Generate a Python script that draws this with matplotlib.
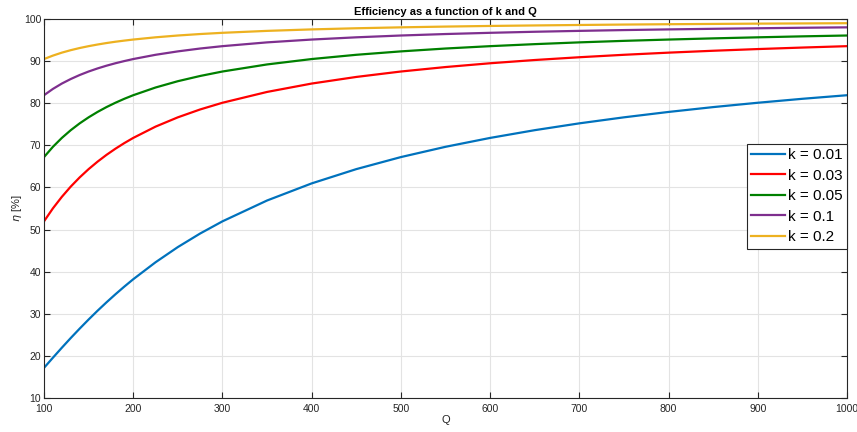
import matplotlib
matplotlib.use('Agg')
import matplotlib.pyplot as plt

plt.rcParams['font.family'] = ['Liberation Sans', 'DejaVu Sans']

# Q values and efficiency (%)
Q = [100, 110, 120, 130, 140, 150, 160, 170, 180, 190, 200, 225, 250, 275, 300,
     350, 400, 450, 500, 550, 600, 650, 700, 750, 800, 850, 900, 950, 1000]

eta_k001 = [17.16, 19.57, 21.94, 24.25, 26.48, 28.64, 30.72, 32.71, 34.62, 36.45,
            38.20, 42.23, 45.84, 49.06, 51.95, 56.90, 60.96, 64.35, 67.21, 69.65,
            71.76, 73.60, 75.22, 76.65, 77.93, 79.08, 80.11, 81.05, 81.90]
eta_k003 = [51.95, 55.04, 57.77, 60.21, 62.39, 64.35, 66.12, 67.73, 69.19, 70.53,
            71.76, 74.44, 76.65, 78.52, 80.11, 82.68, 84.67, 86.24, 87.53, 88.59,
            89.49, 90.26, 90.92, 91.50, 92.01, 92.46, 92.86, 93.22, 93.55]
eta_k005 = [67.21, 69.65, 71.76, 73.60, 75.22, 76.65, 77.93, 79.08, 80.11, 81.05,
            81.90, 83.73, 85.23, 86.47, 87.53, 89.21, 90.49, 91.50, 92.31, 92.99,
            93.55, 94.03, 94.45, 94.81, 95.12, 95.40, 95.65, 95.88, 96.08]
eta_k01 = [81.90, 83.40, 84.67, 85.75, 86.70, 87.53, 88.26, 88.91, 89.49, 90.01,
           90.49, 91.50, 92.31, 92.99, 93.55, 94.45, 95.12, 95.65, 96.08, 96.43,
           96.72, 96.97, 97.18, 97.37, 97.53, 97.67, 97.80, 97.92, 98.02]
eta_k02 = [90.49, 91.31, 92.01, 92.60, 93.11, 93.55, 93.94, 94.29, 94.60, 94.87,
           95.12, 95.65, 96.08, 96.43, 96.72, 97.18, 97.53, 97.80, 98.02, 98.20,
           98.35, 98.47, 98.58, 98.68, 98.76, 98.83, 98.90, 98.95, 99.00]

labels = ['k = 0.01', 'k = 0.03', 'k = 0.05', 'k = 0.1', 'k = 0.2']
series = [eta_k001, eta_k003, eta_k005, eta_k01, eta_k02]
colors = ['#0072BD', '#FF0000', '#008000', '#7E2F8E', '#EDB120']

fig = plt.figure(figsize=(8.57, 4.32), dpi=100)
ax = fig.add_axes([44 / 857, 1 - 398 / 432, 803 / 857, 379 / 432])

for y, lab, c in zip(series, labels, colors):
    ax.plot(Q, y, color=c, linewidth=1.6, label=lab, solid_joinstyle='round')

ax.set_xlim(100, 1000)
ax.set_ylim(10, 100)
ax.set_xticks(range(100, 1001, 100))
ax.set_yticks(range(10, 101, 10))
ax.grid(True, color='#e3e3e3', linewidth=0.8)
ax.set_axisbelow(True)
ax.tick_params(direction='in', length=4, width=0.8, labelsize=7.5,
               colors='#262626', top=True, right=True, pad=2)
ax.tick_params(axis='x', pad=4)
for s in ax.spines.values():
    s.set_color('#262626')
    s.set_linewidth(0.8)

ax.set_xlabel('Q', fontsize=8, color='#262626', labelpad=1)
ax.set_ylabel(r'$\eta$ [%]', fontsize=8, color='#262626', labelpad=0)
ax.set_title('Efficiency as a function of k and Q', fontsize=8,
             fontweight='bold', pad=3)

leg = ax.legend(loc='upper right', bbox_to_anchor=(1.0, 0.671), fontsize=11,
                fancybox=False, framealpha=1, edgecolor='#262626',
                handlelength=2.2, handletextpad=0.2, borderpad=0.3,
                labelspacing=0.42, borderaxespad=0)
leg.get_frame().set_linewidth(0.8)

fig.savefig('out.png', dpi=100)
